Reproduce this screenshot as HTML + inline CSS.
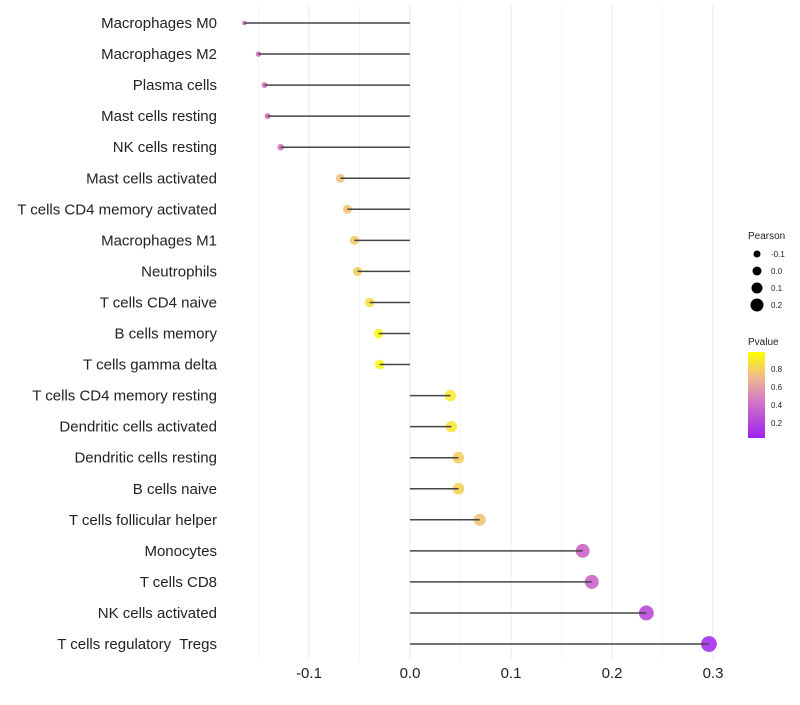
<!DOCTYPE html>
<html><head><meta charset="utf-8"><style>
body{margin:0;background:#fff;font-family:"Liberation Sans",sans-serif}
text{white-space:pre}
</style></head><body>
<svg id="c" width="800" height="700" xmlns="http://www.w3.org/2000/svg">
<defs><linearGradient id="pg" x1="0" y1="1" x2="0" y2="0">
<stop offset="0" stop-color="#A020F0"/><stop offset="0.45" stop-color="#D47DC0"/><stop offset="0.7" stop-color="#EFB890"/><stop offset="1" stop-color="#FFFF00"/></linearGradient></defs>
</svg>
<script>
const cells=["Macrophages M0","Macrophages M2","Plasma cells","Mast cells resting","NK cells resting","Mast cells activated","T cells CD4 memory activated","Macrophages M1","Neutrophils","T cells CD4 naive","B cells memory","T cells gamma delta","T cells CD4 memory resting","Dendritic cells activated","Dendritic cells resting","B cells naive","T cells follicular helper","Monocytes","T cells CD8","NK cells activated","T cells regulatory  Tregs"];
const pearson=[-0.164,-0.150,-0.144,-0.141,-0.128,-0.069,-0.062,-0.055,-0.052,-0.040,-0.031,-0.030,0.040,0.041,0.048,0.048,0.069,0.171,0.180,0.234,0.296];
const pvalue=[0.42,0.42,0.42,0.42,0.45,0.72,0.74,0.76,0.78,0.85,0.95,0.95,0.9,0.88,0.78,0.8,0.72,0.35,0.35,0.2,0.04];
const xTicks=[-0.1,0,0.1,0.2,0.3];
const xTickLabels=["-0.1","0.0","0.1","0.2","0.3"];
const svg=document.getElementById('c');const NS="http://www.w3.org/2000/svg";
const X=v=>410+v*1010;const Y=i=>23+i*31.05;
const R=v=>1+10*Math.sqrt(Math.max(0,v+0.18));
function col(p){const stops=[[0,[160,32,240]],[0.45,[212,110,180]],[0.7,[239,184,120]],[1,[255,255,0]]];const t=Math.max(0,Math.min(1,(p-0.03)/0.96));for(let k=1;k<stops.length;k++){if(t<=stops[k][0]){const a=stops[k-1],b=stops[k];const f=(t-a[0])/(b[0]-a[0]);return 'rgb('+a[1].map((c,j)=>Math.round(c+(b[1][j]-c)*f)).join(',')+')';}}return 'rgb(255,255,0)';}
function el(t,a,p){const e=document.createElementNS(NS,t);for(const k in a)e.setAttribute(k,a[k]);(p||svg).appendChild(e);return e;}
for(let v=-0.15;v<=0.31;v+=0.05){const g=el('line',{x1:X(v),x2:X(v),y1:5,y2:660,stroke:Math.abs(Math.round(v*100)%10)<1?'#ebebeb':'#f5f5f5','stroke-width':1});

}
xTicks.forEach((v,i)=>{const t=el('text',{x:X(v),y:678,'text-anchor':'middle','font-size':15,fill:'#222'});t.textContent=xTickLabels[i];

});
cells.forEach((c,i)=>{const t=el('text',{x:217,y:Y(i)+5,'text-anchor':'end','font-size':15,fill:'#222'});t.textContent=c;


const d=el('circle',{cx:X(pearson[i]),cy:Y(i),r:R(pearson[i]),fill:col(pvalue[i]),'fill-opacity':0.85});


const l=el('line',{x1:X(0),x2:X(pearson[i]),y1:Y(i),y2:Y(i),stroke:'#444','stroke-width':1.5});

});
let t=el('text',{x:748,y:239,'font-size':10,fill:'#222'});t.textContent='Pearson';

[-0.1,0,0.1,0.2].forEach((v,i)=>{const y=254+i*17;const c=el('circle',{cx:757,cy:y,r:[3.5,4.5,5.5,6.5][i],fill:'#000'});

const s=el('text',{x:771,y:y+3,'font-size':8,fill:'#222'});s.textContent=['-0.1','0.0','0.1','0.2'][i];
});
t=el('text',{x:748,y:345,'font-size':10,fill:'#222'});t.textContent='Pvalue';

const bar=el('rect',{x:748,y:352,width:17,height:86,fill:'url(#pg)'});

[[0.8,369],[0.6,387],[0.4,405],[0.2,423]].forEach(([v,y])=>{const s=el('text',{x:771,y:y+3,'font-size':8,fill:'#222'});s.textContent=v.toFixed(1);
});
</script>
</body></html>
